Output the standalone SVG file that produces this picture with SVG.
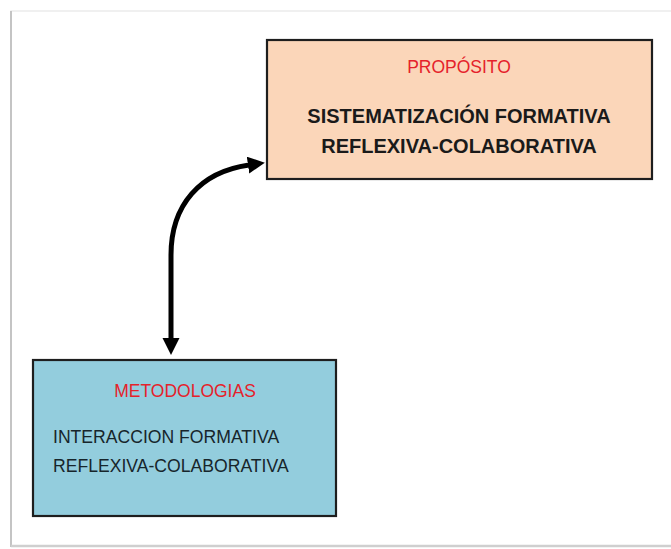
<svg xmlns="http://www.w3.org/2000/svg" width="671" height="549" viewBox="0 0 671 549">
  <style>
    .box { stroke: #1e1e1e; stroke-width: 2.2; }
    .title { font-family: "Liberation Sans", Arial, sans-serif; font-size: 17.5px; fill: #e5222b; text-anchor: middle; }
    .bold { font-family: "Liberation Sans", Arial, sans-serif; font-size: 20px; font-weight: bold; fill: #1a1a1a; text-anchor: middle; }
    .body { font-family: "Liberation Sans", Arial, sans-serif; font-size: 17.6px; fill: #17252b; }
    .conn { fill: none; stroke: #000; stroke-width: 5; }
  </style>
  <defs>
    <marker id="head" markerUnits="userSpaceOnUse" markerWidth="18" markerHeight="18" refX="1" refY="8.5" orient="auto-start-reverse">
      <path d="M0,0 L17,8.5 L0,17 Z" fill="#000"/>
    </marker>
  </defs>
  <rect width="671" height="549" fill="#ffffff"/>
  <g id="frame">
    <rect x="11" y="11" width="680" height="535" fill="#ffffff" stroke="#ebebeb" stroke-width="1.5"/>
    <line x1="11" y1="11" x2="11" y2="547" stroke="#c4c4c4" stroke-width="2"/>
    <line x1="11" y1="546" x2="671" y2="546" stroke="#cfcfcf" stroke-width="2.5"/>
  </g>
  <g id="connectors">
    <path class="conn" d="M171,339 L171,255 C171,205 200,172 249,165" marker-start="url(#head)" marker-end="url(#head)"/>
  </g>
  <g id="proposito">
    <rect class="box" x="267" y="40" width="385" height="139" fill="#fbd6b9"/>
    <text class="title" x="459" y="73">PROPÓSITO</text>
    <text class="bold" x="459" y="123">SISTEMATIZACIÓN FORMATIVA</text>
    <text class="bold" x="459" y="153">REFLEXIVA-COLABORATIVA</text>
  </g>
  <g id="metodologias">
    <rect class="box" x="33" y="360" width="303" height="156" fill="#93cddd"/>
    <text class="title" x="185" y="397">METODOLOGIAS</text>
    <text class="body" x="53" y="443">INTERACCION FORMATIVA</text>
    <text class="body" x="53" y="472">REFLEXIVA-COLABORATIVA</text>
  </g>
</svg>
